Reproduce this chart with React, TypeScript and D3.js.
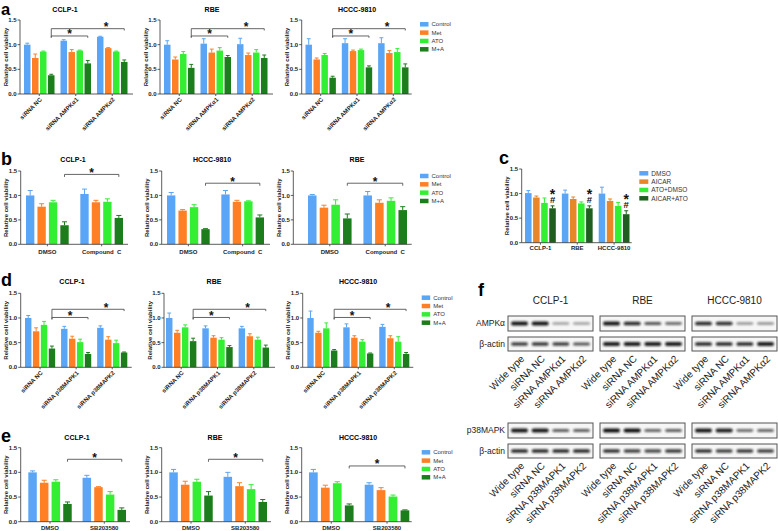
import React from 'react';
import * as d3 from 'd3';

const FONT = "'Liberation Sans', Arial, Helvetica, sans-serif";

const SERIES = ["Control", "Met", "ATO", "M+A"];
const COLORS = ["#5aa5f5", "#ff8024", "#33ee33", "#1c7d1c"];
const Y_TICKS = [0, 0.5, 1.0, 1.5];
const Y_TICK_LABELS = ["0.0", "0.5", "1.0", "1.5"];

// panel a
const A_GROUPS = ["siRNA NC", "siRNA AMPKα1", "siRNA AMPKα2"];
const A_CCLP1 = [[1.00, 0.73, 0.86, 0.38], [1.08, 0.85, 0.88, 0.62], [1.16, 0.93, 0.86, 0.65]];
const A_CCLP1_ERR = [[0.03, 0.08, 0.01, 0.02], [0.02, 0.05, 0.01, 0.06], [0.01, 0.01, 0.01, 0.04]];
const A_RBE = [[1.00, 0.70, 0.81, 0.53], [1.02, 0.84, 0.88, 0.75], [1.01, 0.79, 0.84, 0.73]];
const A_RBE_ERR = [[0.08, 0.05, 0.05, 0.07], [0.10, 0.07, 0.06, 0.03], [0.12, 0.04, 0.06, 0.06]];
const A_HCCC = [[1.00, 0.70, 0.79, 0.33], [1.03, 0.87, 0.89, 0.54], [1.03, 0.83, 0.85, 0.54]];
const A_HCCC_ERR = [[0.12, 0.03, 0.03, 0.03], [0.09, 0.02, 0.02, 0.03], [0.11, 0.05, 0.07, 0.07]];

// panel b
const B_GROUPS = ["DMSO", "Compound  C"];
const B_CCLP1 = [[1.00, 0.77, 0.86, 0.39], [1.03, 0.86, 0.87, 0.54]];
const B_CCLP1_ERR = [[0.10, 0.06, 0.04, 0.07], [0.10, 0.04, 0.06, 0.05]];
const B_HCCC = [[1.00, 0.69, 0.76, 0.31], [1.02, 0.87, 0.88, 0.55]];
const B_HCCC_ERR = [[0.06, 0.02, 0.05, 0.01], [0.08, 0.03, 0.01, 0.05]];
const B_RBE = [[1.00, 0.75, 0.81, 0.53], [1.00, 0.85, 0.89, 0.70]];
const B_RBE_ERR = [[0.02, 0.05, 0.10, 0.09], [0.08, 0.06, 0.06, 0.07]];

// panel c
const C_GROUPS = ["CCLP-1", "RBE", "HCCC-9810"];
const C_SERIES = ["DMSO", "AICAR", "ATO+DMSO", "AICAR+ATO"];
const C_COLORS = ["#5aa5f5", "#e8862a", "#33ee33", "#1f5e1f"];
const C_VALUES = [[1.01, 0.92, 0.81, 0.70], [1.00, 0.89, 0.80, 0.70], [1.00, 0.85, 0.75, 0.58]];
const C_ERR = [[0.05, 0.03, 0.10, 0.05], [0.07, 0.04, 0.03, 0.05], [0.13, 0.04, 0.07, 0.07]];

// panel d
const D_GROUPS = ["siRNA NC", "siRNA p38MAPK1", "siRNA p38MAPK2"];
const D_CCLP1 = [[1.00, 0.73, 0.86, 0.38], [0.78, 0.58, 0.51, 0.27], [0.80, 0.56, 0.49, 0.30]];
const D_CCLP1_ERR = [[0.05, 0.07, 0.07, 0.05], [0.05, 0.05, 0.06, 0.03], [0.04, 0.06, 0.06, 0.01]];
const D_RBE = [[1.00, 0.70, 0.81, 0.53], [0.79, 0.60, 0.56, 0.41], [0.79, 0.63, 0.56, 0.40]];
const D_RBE_ERR = [[0.10, 0.05, 0.05, 0.06], [0.05, 0.04, 0.04, 0.03], [0.04, 0.05, 0.05, 0.05]];
const D_HCCC = [[1.00, 0.70, 0.79, 0.34], [0.81, 0.60, 0.52, 0.28], [0.82, 0.59, 0.52, 0.27]];
const D_HCCC_ERR = [[0.14, 0.03, 0.11, 0.02], [0.07, 0.04, 0.04, 0.01], [0.05, 0.05, 0.10, 0.03]];

// panel e
const E_GROUPS = ["DMSO", "SB203580"];
const E_CCLP1 = [[1.00, 0.79, 0.81, 0.36], [0.89, 0.70, 0.55, 0.24]];
const E_CCLP1_ERR = [[0.03, 0.05, 0.04, 0.04], [0.05, 0.01, 0.06, 0.04]];
const E_RBE = [[1.00, 0.75, 0.81, 0.53], [0.91, 0.72, 0.66, 0.40]];
const E_RBE_ERR = [[0.06, 0.07, 0.05, 0.08], [0.09, 0.07, 0.09, 0.05]];
const E_HCCC = [[1.00, 0.69, 0.78, 0.33], [0.75, 0.64, 0.51, 0.23]];
const E_HCCC_ERR = [[0.06, 0.05, 0.03, 0.03], [0.04, 0.05, 0.03, 0.01]];

// panel f (band intensities, 0..1)
const F_CELLS = ["CCLP-1", "RBE", "HCCC-9810"];
const F_AMPK_LANES = ["Wide type", "siRNA NC", "siRNA AMPKα1", "siRNA AMPKα2"];
const F_P38_LANES = ["Wide type", "siRNA NC", "siRNA p38MAPK1", "siRNA p38MAPK2"];
const F_AMPK = [[0.95, 0.95, 0.18, 0.18], [0.95, 0.85, 0.6, 0.45], [0.85, 0.8, 0.25, 0.28]];
const F_AMPK_ACTIN = [[0.7, 0.75, 0.7, 0.6], [0.9, 0.9, 0.9, 0.9], [0.85, 0.85, 0.85, 0.9]];
const F_P38 = [[0.95, 0.95, 0.55, 0.55], [1.0, 1.0, 0.5, 0.55], [0.95, 0.9, 0.45, 0.5]];
const F_P38_ACTIN = [[0.85, 0.85, 0.85, 0.85], [0.8, 0.7, 0.65, 0.75], [0.8, 0.7, 0.75, 0.7]];

type Bracket = { g1: number; g2: number; level: number; dropL: number; dropR: number; star: [number, number] };

type ChartProps = {
  title: string; titleX: number; titleY: number; titleSize?: number;
  ax0: number; ax1: number; yTop: number; y0: number;
  bx0: number; bx1: number; gp: number; sp: number;
  groups: string[]; series?: string[]; colors?: string[];
  values: number[][]; errors: number[][];
  rotate?: boolean; labelSize?: number; labelDy?: number;
  brackets?: Bracket[];
  marks?: boolean;
  fs?: number;
};

function BarChart(p: ChartProps) {
  const series = p.series || SERIES;
  const colors = p.colors || COLORS;
  const fs = p.fs || 6;
  const y = d3.scaleLinear().domain([0, 1.5]).range([p.y0, p.yTop]);
  const xg = d3.scaleBand<string>().domain(p.groups).range([p.bx0, p.bx1]).paddingInner(p.gp).paddingOuter(0);
  const xs = d3.scaleBand<string>().domain(series).range([0, xg.bandwidth()]).paddingInner(p.sp).paddingOuter(0);
  const bw = xs.bandwidth();
  const gc = (gi: number) => (xg(p.groups[gi]) as number) + xg.bandwidth() / 2;
  const lastC = (gi: number) => (xg(p.groups[gi]) as number) + (xs(series[3]) as number) + bw / 2;
  const mid = (p.y0 + p.yTop) / 2;
  return (
    <g fontFamily={FONT}>
      {p.title && <text x={p.titleX} y={p.titleY} textAnchor="middle" fontWeight="bold" fontSize={p.titleSize || 7}>{p.title}</text>}
      <text transform={`translate(${p.ax0 - 12.5},${mid}) rotate(-90)`} textAnchor="middle" fontWeight="bold" fontSize={fs} fill="#222">Relative cell viability</text>
      {Y_TICKS.map((t, i) => (
        <g key={t}>
          <line x1={p.ax0 - 2.5} x2={p.ax0} y1={y(t)} y2={y(t)} stroke="#333" strokeWidth={0.8} />
          <text x={p.ax0 - 3.5} y={y(t)} dy="0.35em" textAnchor="end" fontWeight="bold" fontSize={fs} fill="#222">{Y_TICK_LABELS[i]}</text>
        </g>
      ))}
      {p.values.map((row, gi) => row.map((v, si) => {
        const x = (xg(p.groups[gi]) as number) + (xs(series[si]) as number);
        const e = p.errors[gi][si];
        const cx = x + bw / 2;
        return (
          <g key={gi + '-' + si}>
            <rect x={x} y={y(v)} width={bw} height={p.y0 - y(v)} fill={colors[si]} />
            <line x1={cx} x2={cx} y1={y(v)} y2={y(v + e)} stroke={colors[si]} strokeWidth={1} />
            <line x1={cx - bw * 0.3} x2={cx + bw * 0.3} y1={y(v + e)} y2={y(v + e)} stroke={colors[si]} strokeWidth={1} />
          </g>
        );
      }))}
      <line x1={p.ax0} x2={p.ax0} y1={p.yTop} y2={p.y0} stroke="#333" strokeWidth={0.8} />
      <line x1={p.ax0} x2={p.ax1} y1={p.y0} y2={p.y0} stroke="#333" strokeWidth={0.8} />
      {p.groups.map((g, gi) => (
        <g key={g}>
          <line x1={gc(gi)} x2={gc(gi)} y1={p.y0} y2={p.y0 + 2} stroke="#333" strokeWidth={0.8} />
          {p.rotate ? (
            <text transform={`translate(${gc(gi) + 1.5},${p.y0 + 4.5}) rotate(-45)`} textAnchor="end" dy="0.35em" fontWeight="bold" fontSize={p.labelSize || 6} fill="#222">{g}</text>
          ) : (
            <text x={gc(gi)} y={p.y0 + (p.labelDy || 9.5)} textAnchor="middle" fontWeight="bold" fontSize={p.labelSize || 6} fill="#222" style={{ whiteSpace: 'pre' }}>{g}</text>
          )}
        </g>
      ))}
      {(p.brackets || []).map((b, i) => {
        const x1 = lastC(b.g1), x2 = lastC(b.g2), ly = y(b.level);
        const sx = (lastC(b.star[0]) + lastC(b.star[1])) / 2;
        return (
          <g key={'br' + i}>
            <path d={`M${x1},${ly + b.dropL}V${ly}H${x2}V${ly + b.dropR}`} fill="none" stroke="#555" strokeWidth={0.9} />
            <text x={sx} y={ly + 2.5} textAnchor="middle" fontWeight="bold" fontSize={12} fill="#111">*</text>
          </g>
        );
      })}
      {p.marks && p.values.map((row, gi) => {
        const top = y(row[3] + p.errors[gi][3]);
        const cx = lastC(gi);
        return (
          <text key={'m' + gi} textAnchor="middle" fontWeight="bold" fill="#111">
            <tspan x={cx} y={top - 6.5} fontSize={14}>*</tspan>
            <tspan x={cx} y={top - 3} fontSize={9.5}>#</tspan>
          </text>
        );
      })}
    </g>
  );
}

function Legend({ x, y, step, items, colors, sw, sh, fs }: { x: number; y: number; step: number; items: string[]; colors: string[]; sw: number; sh: number; fs: number }) {
  return (
    <g fontFamily={FONT}>
      {items.map((it, i) => (
        <g key={it}>
          <rect x={x} y={y + i * step - sh / 2} width={sw} height={sh} fill={colors[i]} />
          <text x={x + sw + 3} y={y + i * step} dy="0.35em" fontSize={fs} fill="#333">{it}</text>
        </g>
      ))}
    </g>
  );
}

function Blot({ x, y, w, h, levels }: { x: number; y: number; w: number; h: number; levels: number[] }) {
  const lane = d3.scalePoint<number>().domain(d3.range(levels.length)).range([x + 11.5, x + w - 11.5]);
  return (
    <g>
      <rect x={x} y={y} width={w} height={h} fill="#f6f6f6" stroke="#555" strokeWidth={1} />
      {levels.map((v, i) => (
        <rect key={i} x={(lane(i) as number) - 8.5} y={y + h / 2 - (2 + 2 * v) / 2} width={17} height={2 + 2 * v} rx={2}
          fill="#111" opacity={0.25 + 0.75 * v} filter="url(#blur)" />
      ))}
    </g>
  );
}

function BlotPanel({ top, lanes, main, actin, mainLabel }: { top: number; lanes: string[]; main: number[][]; actin: number[][]; mainLabel: string }) {
  const boxX = [508, 600, 692];
  const W = 85;
  const lane = (bx: number) => d3.scalePoint<number>().domain(d3.range(4)).range([bx + 11.5, bx + W - 11.5]);
  const r1 = top, r2 = top + 21, h = 15;
  return (
    <g fontFamily={FONT}>
      <text x={505} y={r1 + h / 2} dy="0.35em" textAnchor="end" fontSize={8.5} fill="#222">{mainLabel}</text>
      <text x={505} y={r2 + h / 2} dy="0.35em" textAnchor="end" fontSize={8.5} fill="#222">β-actin</text>
      {boxX.map((bx, ci) => (
        <g key={ci}>
          <Blot x={bx} y={r1} w={W} h={h} levels={main[ci]} />
          <Blot x={bx} y={r2} w={W} h={h - 1} levels={actin[ci]} />
          {lanes.map((l, li) => (
            <text key={l} transform={`translate(${(lane(bx)(li) as number) + 3},${r2 + h + 5}) rotate(-45)`} textAnchor="end" dy="0.35em" fontSize={10} fill="#222">{l}</text>
          ))}
        </g>
      ))}
    </g>
  );
}

export default function App() {
  const aBr: Bracket[] = [
    { g1: 0, g2: 1, level: 1.176, dropL: 1.5, dropR: 1.8, star: [0, 1] },
    { g1: 0, g2: 2, level: 1.324, dropL: 9, dropR: 1.8, star: [1, 2] },
  ];
  const dBr: Bracket[] = [
    { g1: 0, g2: 1, level: 1.01, dropL: 2, dropR: 1.8, star: [0, 1] },
    { g1: 0, g2: 2, level: 1.176, dropL: 10, dropR: 1.8, star: [1, 2] },
  ];
  const single = (level: number): Bracket[] => [{ g1: 0, g2: 1, level, dropL: 2.5, dropR: 2.5, star: [0, 1] }];
  const aY = { yTop: 20, y0: 94 };
  const bY = { yTop: 171, y0: 244.3 };
  const dY = { yTop: 293.3, y0: 367.3 };
  const eY = { yTop: 447.7, y0: 521.7 };
  return (
    <svg width={778} height={531} style={{ position: 'absolute', left: 0, top: 0, background: '#fff' }}>
      <defs>
        <filter id="blur" x="-30%" y="-100%" width="160%" height="300%">
          <feGaussianBlur stdDeviation="0.9" />
        </filter>
      </defs>
      <g fontFamily={FONT} fontWeight="bold" fontSize={18}>
        <text x={1} y={15} fontSize={16.5}>a</text>
        <text x={1} y={165}>b</text>
        <text x={499} y={164}>c</text>
        <text x={1} y={286}>d</text>
        <text x={1} y={442}>e</text>
        <text x={478} y={296}>f</text>
      </g>

      {/* panel a */}
      <BarChart title="CCLP-1" titleX={65} titleY={12} {...aY} ax0={20} ax1={133} bx0={24} bx1={127.5} gp={0.164} sp={0.19}
        groups={A_GROUPS} values={A_CCLP1} errors={A_CCLP1_ERR} rotate brackets={aBr} />
      <BarChart title="RBE" titleX={212} titleY={12} {...aY} ax0={160} ax1={273} bx0={164} bx1={267.5} gp={0.164} sp={0.19}
        groups={A_GROUPS} values={A_RBE} errors={A_RBE_ERR} rotate brackets={aBr} />
      <BarChart title="HCCC-9810" titleX={357} titleY={12} {...aY} ax0={301.7} ax1={411.7} bx0={305.5} bx1={408.5} gp={0.164} sp={0.19}
        groups={A_GROUPS} values={A_HCCC} errors={A_HCCC_ERR} rotate brackets={aBr} />
      <Legend x={420} y={24.3} step={8.33} items={SERIES} colors={COLORS} sw={8.5} sh={4.5} fs={6} />

      {/* panel b */}
      <BarChart title="CCLP-1" titleX={73} titleY={162} {...bY} ax0={20.7} ax1={128} bx0={26} bx1={123} gp={0.214} sp={0.27}
        groups={B_GROUPS} values={B_CCLP1} errors={B_CCLP1_ERR} brackets={single(1.43)} />
      <BarChart title="HCCC-9810" titleX={212} titleY={162} {...bY} ax0={161.7} ax1={270} bx0={167} bx1={264} gp={0.214} sp={0.27}
        groups={B_GROUPS} values={B_HCCC} errors={B_HCCC_ERR} brackets={single(1.25)} />
      <BarChart title="RBE" titleX={357} titleY={162} {...bY} ax0={293.3} ax1={411.7} bx0={308} bx1={407} gp={0.214} sp={0.27}
        groups={B_GROUPS} values={B_RBE} errors={B_RBE_ERR} brackets={single(1.25)} />
      <Legend x={420} y={176} step={8.33} items={SERIES} colors={COLORS} sw={8.5} sh={4.5} fs={6} />

      {/* panel c */}
      <BarChart title="" titleX={0} titleY={0} yTop={169} y0={242.7} ax0={521.7} ax1={631.7} bx0={525} bx1={629.5} gp={0.164} sp={0.19}
        groups={C_GROUPS} series={C_SERIES} colors={C_COLORS} values={C_VALUES} errors={C_ERR} labelDy={7} marks />
      <Legend x={639.3} y={173.3} step={8.33} items={C_SERIES} colors={C_COLORS} sw={9} sh={4.5} fs={6.5} />

      {/* panel d */}
      <BarChart title="CCLP-1" titleX={72} titleY={283.5} {...dY} ax0={20.7} ax1={131.7} bx0={25} bx1={127.3} gp={0.164} sp={0.19}
        groups={D_GROUPS} values={D_CCLP1} errors={D_CCLP1_ERR} rotate brackets={dBr} />
      <BarChart title="RBE" titleX={214} titleY={283.5} {...dY} ax0={164} ax1={275} bx0={166} bx1={269} gp={0.164} sp={0.19}
        groups={D_GROUPS} values={D_RBE} errors={D_RBE_ERR} rotate brackets={dBr} />
      <BarChart title="HCCC-9810" titleX={358} titleY={283.5} {...dY} ax0={302.7} ax1={413.3} bx0={307.3} bx1={409.3} gp={0.164} sp={0.19}
        groups={D_GROUPS} values={D_HCCC} errors={D_HCCC_ERR} rotate brackets={dBr} />
      <Legend x={421.7} y={297.7} step={8.33} items={SERIES} colors={COLORS} sw={8.5} sh={4.5} fs={6} />

      {/* panel e */}
      <BarChart title="CCLP-1" titleX={77} titleY={440} {...eY} ax0={20.7} ax1={130} bx0={28.3} bx1={126} gp={0.2} sp={0.27}
        groups={E_GROUPS} values={E_CCLP1} errors={E_CCLP1_ERR} labelDy={8.5} brackets={single(1.265)} />
      <BarChart title="RBE" titleX={215} titleY={440} {...eY} ax0={161.7} ax1={271} bx0={169.3} bx1={267} gp={0.2} sp={0.27}
        groups={E_GROUPS} values={E_RBE} errors={E_RBE_ERR} labelDy={8.5} brackets={single(1.265)} />
      <BarChart title="HCCC-9810" titleX={358} titleY={440} {...eY} ax0={301.7} ax1={411.7} bx0={309} bx1={409.3} gp={0.2} sp={0.27}
        groups={E_GROUPS} values={E_HCCC} errors={E_HCCC_ERR} labelDy={8.5} brackets={single(1.13)} />
      <Legend x={421.7} y={452.3} step={8.33} items={SERIES} colors={COLORS} sw={8.5} sh={4.5} fs={6} />

      {/* panel f */}
      <g fontFamily={FONT}>
        {F_CELLS.map((c, i) => (
          <text key={c} x={550.5 + i * 92} y={303.5} textAnchor="middle" fontSize={10} fill="#222">{c}</text>
        ))}
      </g>
      <BlotPanel top={316} lanes={F_AMPK_LANES} main={F_AMPK} actin={F_AMPK_ACTIN} mainLabel="AMPKα" />
      <BlotPanel top={423} lanes={F_P38_LANES} main={F_P38} actin={F_P38_ACTIN} mainLabel="p38MAPK" />
    </svg>
  );
}
